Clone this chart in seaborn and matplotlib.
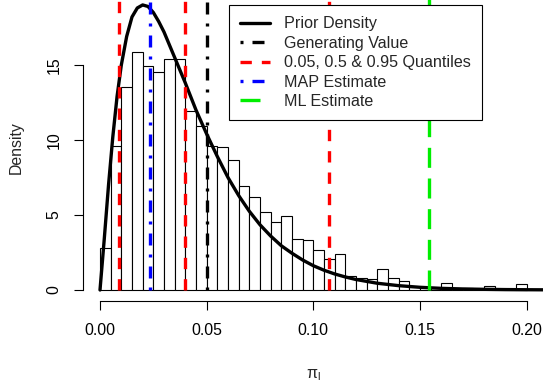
import numpy as np
import pandas as pd
import matplotlib
matplotlib.use('Agg')
import matplotlib.pyplot as plt
import seaborn as sns
from matplotlib.lines import Line2D

# histogram of the sampled pi_l values (density per bin of width 0.005)
bin_width = 0.005
hist_density = [2.8, 9.6, 13.5, 15.85, 14.9, 14.5, 15.4, 15.4, 11.9, 10.95,
                9.6, 9.5, 8.65, 6.9, 6.18, 5.22, 4.51, 4.93, 3.42, 3.36,
                2.67, 2.04, 2.4, 0.96, 0.82, 0.73, 1.42, 0.82, 0.62, 0.2,
                0.1, 0.1, 0.45, 0.0, 0.1, 0.0, 0.25, 0.0, 0.0, 0.38]

# prior density curve
prior_x = [0.000, 0.002, 0.004, 0.006, 0.008, 0.010, 0.0125, 0.015, 0.0175, 0.020,
           0.0225, 0.025, 0.0275, 0.030, 0.035, 0.040, 0.045, 0.050, 0.055, 0.060,
           0.065, 0.070, 0.075, 0.080, 0.085, 0.090, 0.095, 0.100, 0.105, 0.110,
           0.115, 0.120, 0.130, 0.140, 0.150, 0.160, 0.170, 0.180, 0.190, 0.200, 0.210]
prior_y = [0.0, 3.4, 7.0, 10.2, 12.9, 15.0, 16.9, 18.2, 18.8, 19.0,
           18.9, 18.5, 17.9, 17.2, 15.5, 13.8, 12.0, 10.4, 8.9, 7.5,
           6.3, 5.25, 4.35, 3.6, 2.95, 2.45, 2.0, 1.62, 1.32, 1.07,
           0.87, 0.70, 0.45, 0.29, 0.18, 0.11, 0.07, 0.045, 0.028, 0.018, 0.011]

gen_value = 0.05
quantiles = [0.0090, 0.0397, 0.1075]
map_est = 0.0234
ml_est = 0.1544

legend_labels = ['Prior Density', 'Generating Value', '0.05, 0.5 & 0.95 Quantiles',
                 'MAP Estimate', 'ML Estimate']

sns.set_style('white')
plt.rcParams['font.family'] = ['Liberation Sans', 'DejaVu Sans']
plt.rcParams['mathtext.default'] = 'regular'

fig = plt.figure(figsize=(5.43, 3.83), dpi=100)
ax = fig.add_axes([83 / 543, (383 - 301.4) / 383, 460 / 543, 307.4 / 383])

# histogram bars, white with black outline
edges = [i * bin_width for i in range(len(hist_density) + 1)]
hist_df = pd.DataFrame({'pi': [e + bin_width / 2 for e in edges[:-1]],
                        'dens': hist_density})
sns.histplot(data=hist_df, x='pi', weights='dens', bins=edges, stat='count',
             color='white', edgecolor='black', linewidth=0.8, alpha=1, ax=ax)

# prior density
sns.lineplot(x=prior_x, y=prior_y, color='black', lw=2.4, sort=False, ax=ax)

# vertical reference lines
top = 19.73
lw = 2.4
dotdash = (0.9, 2.7, 3.6, 2.7)
ax.plot([gen_value, gen_value], [0, top], color='black', lw=lw, dashes=dotdash)
for q in quantiles:
    ax.plot([q, q], [0, top], color='red', lw=lw, dashes=(3.4, 3.0))
ax.plot([map_est, map_est], [0, top], color='blue', lw=lw, dashes=dotdash)
ax.plot([ml_est, ml_est], [0, top], color='#00ee00', lw=lw, dashes=(6, 3.2))

ax.set_xlim(-0.00797, 0.2077)
ax.set_ylim(-0.76, top)

# R-style axes: no box, axis lines only over the tick range
for side in ['top', 'right']:
    ax.spines[side].set_visible(False)
ax.spines['bottom'].set_bounds(0, 0.2)
ax.spines['left'].set_bounds(0, 15)
for side in ['bottom', 'left']:
    ax.spines[side].set_linewidth(0.8)
    ax.spines[side].set_color('black')

ax.set_xticks([0, 0.05, 0.10, 0.15, 0.20])
ax.set_xticklabels(['0.00', '0.05', '0.10', '0.15', '0.20'])
ax.set_yticks([0, 5, 10, 15])
ax.tick_params(axis='both', direction='out', length=6.5, width=0.8, pad=9,
               labelsize=11.4, colors='black', bottom=True, left=True)
plt.setp(ax.get_yticklabels(), rotation=90, va='center')

ax.set_xlabel(r'$\pi_l$', fontsize=11.4)
ax.xaxis.set_label_coords(0.5, -0.2144)
ax.set_ylabel('Density', fontsize=11.4)
ax.yaxis.set_label_coords(-0.1298, 0.5)

handles = [
    Line2D([], [], color='black', lw=lw),
    Line2D([], [], color='black', lw=lw, dashes=dotdash),
    Line2D([], [], color='red', lw=lw, dashes=(3.4, 3.0)),
    Line2D([], [], color='blue', lw=lw, dashes=dotdash),
    Line2D([], [], color='#00ee00', lw=lw, dashes=(6, 3.2)),
]
leg = ax.legend(handles, legend_labels, loc='upper left',
                bbox_to_anchor=(228.5 / 543, (383 - 5) / 383),
                bbox_transform=fig.transFigure, fontsize=11.6,
                frameon=True, fancybox=False, framealpha=1, edgecolor='black',
                borderpad=0.7, labelspacing=0.276, handlelength=1.85,
                handletextpad=0.9, borderaxespad=0)
leg.get_frame().set_linewidth(0.8)

fig.savefig('out.png', dpi=100)
